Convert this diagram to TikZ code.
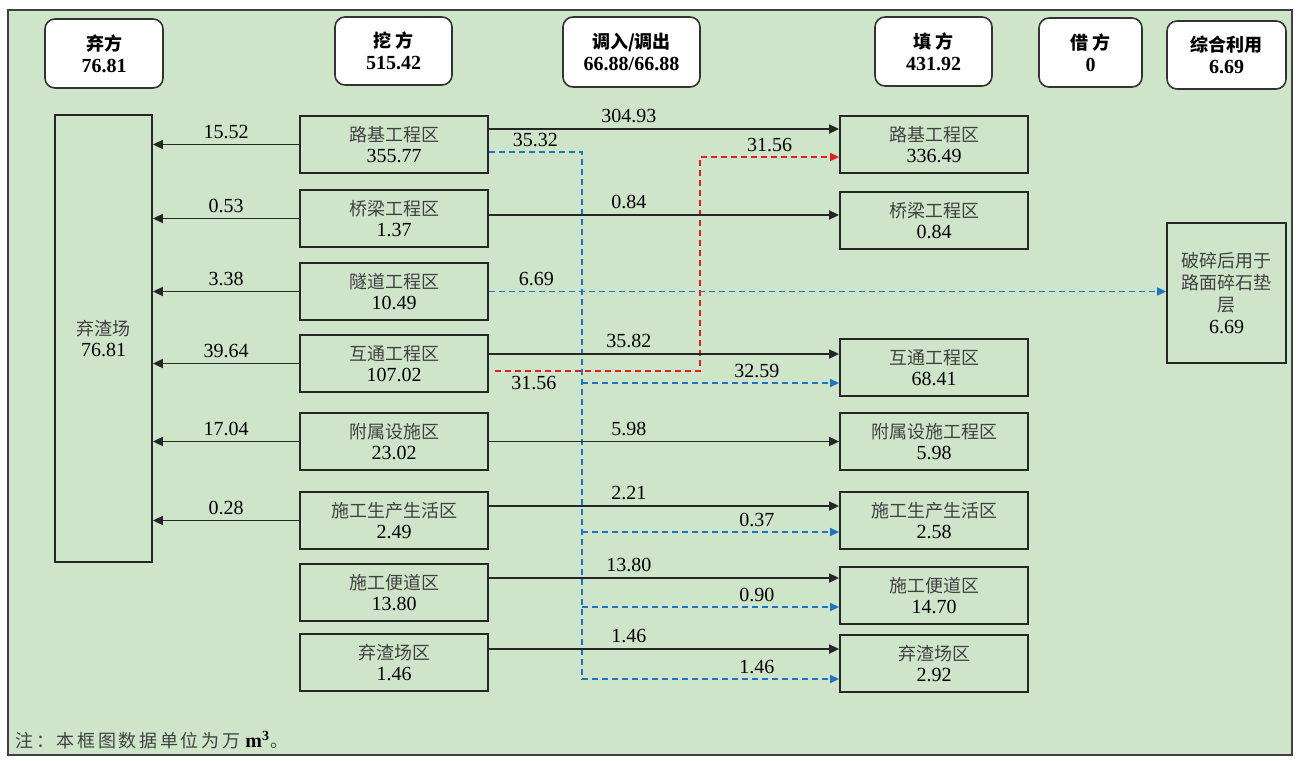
\documentclass[tikz,border=0pt]{standalone}
\usepackage{fontspec}
\setmainfont{Liberation Serif}
\newfontfamily\cjk{Noto Sans CJK SC}
\newfontfamily\cjknote[LetterSpace=15]{Noto Sans CJK SC}
\usepackage{tikz}
\usetikzlibrary{arrows.meta, positioning}

\definecolor{bggreen}{RGB}{206,229,201}
\definecolor{flowblue}{RGB}{30,116,196}
\definecolor{flowred}{RGB}{232,30,30}
\definecolor{zhgray}{RGB}{65,65,65}
\newcommand{\zh}[1]{{\cjk\fontsize{9}{10}\selectfont\color{zhgray}#1}}
\newcommand{\zhb}[1]{{\cjk\bfseries\fontsize{9}{10}\selectfont #1}}

\begin{document}
\begin{tikzpicture}[x=0.5pt, y=-0.5pt,
    total/.style={draw=black!80, line width=0.8pt, rounded corners=5pt, fill=white, align=center, inner sep=1pt, font=\bfseries\fontsize{10}{11}\selectfont},
    area/.style={draw=black!85, line width=0.9pt, minimum width=94pt, minimum height=28.5pt, align=center, inner sep=1pt, font=\fontsize{10}{10.5}\selectfont},
    lbl/.style={above, inner sep=2.5pt, text=black, font=\fontsize{10}{11}\selectfont},
    outflow/.style={-{Triangle[length=5pt,width=4.5pt]}, line width=0.85pt, black!85},
    blueline/.style={line width=0.7pt, flowblue, dash pattern=on 3pt off 2pt},
    blueflow/.style={blueline, -{Triangle[length=4.5pt,width=4pt]}},
    redflow/.style={line width=0.7pt, flowred, dash pattern=on 3pt off 2pt, -{Triangle[length=4.5pt,width=4pt]}}]

    \fill[white] (0,0) rectangle (1304,760);
    \useasboundingbox (0,0) rectangle (1304,760);
    \draw[fill=bggreen, draw=black!75, line width=1pt] (8,10) rectangle (1292,755);

    % totals
    \node[total, minimum width=59pt, minimum height=34.5pt] (qifang) at (104,53.5) {\zhb{弃方}\\76.81};
    \node[total, minimum width=58.5pt, minimum height=34pt] (wafang) at (393.5,51) {\zhb{挖 方}\\515.42};
    \node[total, minimum width=68.5pt, minimum height=35pt] (diaopei) at (631.5,52) {\zhb{调入/调出}\\66.88/66.88};
    \node[total, minimum width=58.5pt, minimum height=34.5pt] (tianfang) at (933.5,51.5) {\zhb{填 方}\\431.92};
    \node[total, minimum width=51.5pt, minimum height=34.5pt] (jiefang) at (1090.5,52.5) {\zhb{借 方}\\0};
    \node[total, minimum width=59.5pt, minimum height=34pt] (zonghe) at (1226.5,55) {\zhb{综合利用}\\6.69};

    % spoil yard
    \node[area, minimum width=48.5pt, minimum height=223.5pt] (dump) at (103.5,338.5) {\zh{弃渣场}\\76.81};

    % excavation zones
    \node[area] (m1) at (394,144.5) {\zh{路基工程区}\\355.77};
    \node[area, below=7.6pt of m1] (m2) {\zh{桥梁工程区}\\1.37};
    \node[area, below=7.1pt of m2] (m3) {\zh{隧道工程区}\\10.49};
    \node[area, below=6.6pt of m3] (m4) {\zh{互通工程区}\\107.02};
    \node[area, below=9.6pt of m4] (m5) {\zh{附属设施区}\\23.02};
    \node[area, below=10.1pt of m5] (m6) {\zh{施工生产生活区}\\2.49};
    \node[area, below=6.6pt of m6] (m7) {\zh{施工便道区}\\13.80};
    \node[area, below=5.6pt of m7] (m8) {\zh{弃渣场区}\\1.46};

    % fill zones
    \node[area, right=175.1pt of m1] (r1) {\zh{路基工程区}\\336.49};
    \node[area, right=175.1pt of m2, yshift=-1pt] (r2) {\zh{桥梁工程区}\\0.84};
    \node[area, right=175.1pt of m4, yshift=-2pt] (r4) {\zh{互通工程区}\\68.41};
    \node[area, right=175.1pt of m5] (r5) {\zh{附属设施工程区}\\5.98};
    \node[area, right=175.1pt of m6] (r6) {\zh{施工生产生活区}\\2.58};
    \node[area, right=175.1pt of m7, yshift=-1.5pt] (r7) {\zh{施工便道区}\\14.70};
    \node[area, right=175.1pt of m8, yshift=-0.5pt] (r8) {\zh{弃渣场区}\\2.92};

    \node[area, minimum width=59.5pt, minimum height=70pt, font=\fontsize{10}{11}\selectfont] (reuse) at (1226.5,293) {\zh{破碎后用于}\\\zh{路面碎石垫}\\\zh{层}\\6.69};

    \node[anchor=west, inner sep=0pt, font=\fontsize{10}{11}\selectfont] (note) at (15,740) {{\cjknote\fontsize{9}{10}\selectfont\color{zhgray}注：本框图数据单位为万} \textbf{m\textsuperscript{3}}{\cjk\fontsize{9}{10}\selectfont\color{zhgray}。}};

    \coordinate (trunk) at (582,0);
    \coordinate (redx) at (700,0);

    % transfers
    \draw[blueline] ([yshift=-3.75pt]m1.east) -- node[lbl] {35.32} ([yshift=-3.75pt]m1.east -| trunk) -- ([yshift=-7.75pt]r8.west -| trunk);
    \draw[blueflow] ([yshift=-7.75pt]r4.west -| trunk) -- node[lbl, pos=0.68] {32.59} ([yshift=-7.75pt]r4.west);
    \draw[blueflow] ([yshift=-5.75pt]r6.west -| trunk) -- node[lbl, pos=0.68] {0.37} ([yshift=-5.75pt]r6.west);
    \draw[blueflow] ([yshift=-5.75pt]r7.west -| trunk) -- node[lbl, pos=0.68] {0.90} ([yshift=-5.75pt]r7.west);
    \draw[blueflow] ([yshift=-7.75pt]r8.west -| trunk) -- node[lbl, pos=0.68] {1.46} ([yshift=-7.75pt]r8.west);
    \draw[blueflow] (m3.east) -- node[lbl, pos=0.07] {6.69} (m3.east -| reuse.west);
    \draw[redflow] ([xshift=3pt, yshift=-3.75pt]m4.east) -- node[lbl, below, pos=0.19] {31.56} ([yshift=-3.75pt]m4.east -| redx) |- node[lbl, pos=0.75] {31.56} ([yshift=-6.25pt]r1.west);

    % to spoil yard
    \draw[outflow] (m1.west) -- node[lbl] {15.52} (m1.west -| dump.east);
    \draw[outflow] (m2.west) -- node[lbl] {0.53} (m2.west -| dump.east);
    \draw[outflow] (m3.west) -- node[lbl] {3.38} (m3.west -| dump.east);
    \draw[outflow] (m4.west) -- node[lbl] {39.64} (m4.west -| dump.east);
    \draw[outflow] (m5.west) -- node[lbl] {17.04} (m5.west -| dump.east);
    \draw[outflow] (m6.west) -- node[lbl] {0.28} (m6.west -| dump.east);

    % fill in place
    \draw[outflow] ([yshift=7.75pt]r1.west -| m1.east) -- node[lbl, pos=0.4] {304.93} ([yshift=7.75pt]r1.west);
    \draw[outflow] ([yshift=2.75pt]r2.west -| m2.east) -- node[lbl, pos=0.4] {0.84} ([yshift=2.75pt]r2.west);
    \draw[outflow] ([yshift=6.75pt]r4.west -| m4.east) -- node[lbl, pos=0.4] {35.82} ([yshift=6.75pt]r4.west);
    \draw[outflow] (r5.west -| m5.east) -- node[lbl, pos=0.4] {5.98} (r5.west);
    \draw[outflow] ([yshift=7.25pt]r6.west -| m6.east) -- node[lbl, pos=0.4] {2.21} ([yshift=7.25pt]r6.west);
    \draw[outflow] ([yshift=8.75pt]r7.west -| m7.east) -- node[lbl, pos=0.4] {13.80} ([yshift=8.75pt]r7.west);
    \draw[outflow] ([yshift=7.25pt]r8.west -| m8.east) -- node[lbl, pos=0.4] {1.46} ([yshift=7.25pt]r8.west);
\end{tikzpicture}
\end{document}
